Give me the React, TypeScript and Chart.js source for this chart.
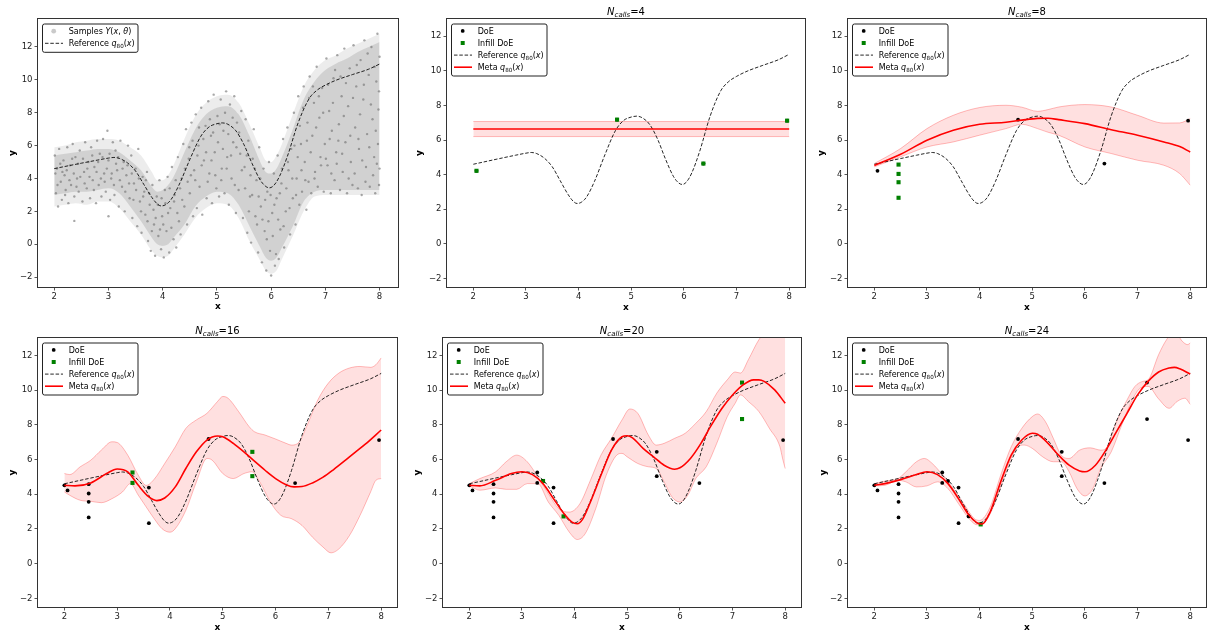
import React, { useEffect, useRef } from "react";
import { Chart, registerables } from "chart.js";

Chart.register(...registerables);

const FONT = '"DejaVu Sans", "Liberation Sans", sans-serif';

// ---------------- data ----------------
const xTicks = [2, 3, 4, 5, 6, 7, 8];
const yTicks = [-2, 0, 2, 4, 6, 8, 10, 12];

// Reference q80(x)
const refX = [2.0, 2.5, 2.8, 3.0, 3.1, 3.2, 3.35, 3.5, 3.65, 3.8, 3.9, 3.97, 4.05, 4.15, 4.3, 4.5, 4.7, 4.85, 5.0, 5.1, 5.2, 5.35, 5.5, 5.65, 5.8, 5.9, 5.97, 6.05, 6.15, 6.3, 6.5, 6.7, 6.85, 7.0, 7.2, 7.5, 7.8, 8.0];
const refY = [4.6, 4.93, 5.12, 5.24, 5.28, 5.22, 4.95, 4.45, 3.65, 2.85, 2.45, 2.33, 2.4, 2.7, 3.6, 5.15, 6.55, 7.12, 7.33, 7.38, 7.3, 6.9, 6.05, 4.9, 3.9, 3.52, 3.43, 3.58, 4.1, 5.35, 7.4, 8.85, 9.38, 9.68, 9.98, 10.32, 10.65, 10.96];

// Samples Y(x, theta): extent of the sample cloud and individual samples
const cloudX = [2.0, 2.2, 2.4, 2.6, 2.8, 3.0, 3.2, 3.4, 3.6, 3.8, 3.9, 4.0, 4.1, 4.2, 4.4, 4.6, 4.8, 5.0, 5.2, 5.4, 5.6, 5.8, 5.9, 6.0, 6.1, 6.2, 6.4, 6.6, 6.8, 7.0, 7.2, 7.4, 7.6, 7.8, 8.0];
const cloudOuterHigh = [5.9, 6.0, 6.2, 6.3, 6.4, 6.4, 6.3, 5.9, 5.4, 4.4, 3.9, 3.9, 4.2, 4.8, 6.4, 7.8, 8.6, 9.0, 9.1, 8.6, 7.3, 5.8, 5.1, 5.0, 5.4, 6.1, 7.9, 9.6, 10.6, 11.2, 11.5, 11.9, 12.2, 12.5, 12.8];
const cloudOuterLow = [2.3, 2.4, 2.5, 2.4, 2.6, 2.6, 2.2, 1.4, 0.6, -0.4, -0.7, -0.8, -0.7, -0.3, 0.6, 1.6, 2.2, 2.5, 2.4, 1.6, 0.2, -1.0, -1.6, -1.8, -1.6, -0.9, 0.5, 2.0, 2.9, 3.0, 3.0, 3.0, 3.0, 3.0, 3.0];
const cloudInnerHigh = [5.4, 5.5, 5.6, 5.7, 5.8, 5.8, 5.6, 5.1, 4.5, 3.5, 3.2, 3.3, 3.6, 4.1, 5.6, 7.0, 7.9, 8.3, 8.4, 7.9, 6.6, 5.0, 4.4, 4.3, 4.6, 5.3, 7.0, 8.8, 9.9, 10.6, 11.0, 11.3, 11.7, 12.0, 12.3];
const cloudInnerLow = [3.0, 3.1, 3.2, 3.2, 3.3, 3.4, 3.1, 2.3, 1.4, 0.4, 0.0, -0.1, 0.0, 0.4, 1.2, 2.3, 2.9, 3.2, 3.1, 2.4, 1.1, -0.2, -0.8, -1.0, -0.8, -0.2, 1.1, 2.6, 3.2, 3.3, 3.3, 3.3, 3.3, 3.3, 3.3];
const samplePoints: [number, number][] = [
  [2.01, 5.4], [2.03, 3.1], [2.05, 4.6], [2.07, 2.3], [2.09, 5.8], [2.12, 3.8], [2.14, 2.7], [2.17, 5.1], [2.19, 4.2], [2.21, 3.3],
  [2.24, 5.9], [2.26, 2.5], [2.29, 4.8], [2.31, 3.6], [2.34, 6.1], [2.37, 2.9], [2.37, 1.42], [2.39, 5.3], [2.42, 4.0], [2.45, 3.2], [2.47, 5.7],
  [2.52, 2.6], [2.55, 4.4], [2.57, 6.2], [2.6, 3.4], [2.63, 5.0], [2.66, 2.8], [2.68, 5.9], [2.71, 3.9], [2.74, 4.7], [2.77, 2.5], [2.79, 6.3],
  [2.82, 3.6], [2.84, 5.5], [2.87, 2.9], [2.9, 6.4], [2.92, 4.3], [2.95, 3.2], [2.98, 6.9], [3.0, 5.1], [3.03, 2.7], [3.05, 4.0], [3.08, 6.2],
  [3.0, 1.7], [3.11, 3.0], [3.13, 5.7], [3.16, 4.5], [3.19, 2.3], [3.22, 6.3], [3.25, 3.5], [3.28, 5.0], [3.3, 2.0], [3.33, 4.2], [3.36, 6.0], [3.39, 2.8],
  [3.42, 5.4], [3.44, 1.6], [3.47, 3.7], [3.5, 4.6], [3.53, 1.1], [3.55, 5.8], [3.58, 2.6], [3.61, 0.7], [3.63, 4.1], [3.66, 3.2], [3.68, 1.8],
  [3.71, 4.4], [3.73, 0.2], [3.76, 2.4], [3.78, -0.4], [3.81, 3.6], [3.84, 1.2], [3.86, -0.7], [3.89, 2.9], [3.92, 0.5], [3.94, 3.9], [3.97, -0.3], [3.99, 1.7],
  [4.02, -0.8], [4.04, 3.3], [4.07, 0.8], [4.09, 4.1], [4.12, -0.5], [4.14, 2.2], [4.17, 4.7], [4.2, 0.3], [4.22, 3.0], [4.25, -0.2], [4.28, 5.3], [4.3, 1.4],
  [4.33, 0.6], [4.35, 4.0], [4.38, 6.1], [4.4, 2.3], [4.43, 7.0], [4.45, 1.2], [4.48, 5.2], [4.5, 3.1], [4.53, 7.4], [4.56, 1.7], [4.58, 4.5],
  [4.61, 7.9], [4.63, 2.2], [4.66, 6.0], [4.68, 3.5], [4.71, 8.3], [4.73, 1.8], [4.76, 5.1], [4.79, 7.2], [4.81, 2.8], [4.84, 8.7], [4.86, 4.3], [4.89, 6.6],
  [4.91, 2.5], [4.94, 9.1], [4.96, 5.6], [4.99, 3.4], [5.01, 7.8], [5.04, 2.9], [5.07, 8.8], [5.09, 4.6], [5.12, 6.9], [5.14, 3.1], [5.17, 9.3], [5.19, 5.3],
  [5.22, 2.4], [5.24, 8.5], [5.27, 4.0], [5.3, 6.2], [5.32, 9.0], [5.35, 1.9], [5.37, 7.4], [5.4, 3.3], [5.43, 5.5], [5.45, 8.1], [5.48, 1.6],
  [5.51, 4.7], [5.53, 7.6], [5.56, 0.7], [5.58, 6.3], [5.61, 2.9], [5.63, 0.1], [5.66, 5.2], [5.68, 7.0], [5.71, 1.7], [5.73, 3.9], [5.76, -0.5], [5.78, 5.9],
  [5.81, 2.3], [5.83, -1.1], [5.86, 4.6], [5.88, 0.8], [5.91, -1.6], [5.93, 3.2], [5.96, 5.0], [5.98, -0.4], [6.0, -1.9], [6.02, 1.9], [6.05, 4.3], [6.07, -1.3], [6.1, 2.8],
  [6.12, 5.4], [6.14, -0.9], [6.17, 0.9], [6.19, 3.7], [6.22, 6.4], [6.24, -0.2], [6.27, 2.0], [6.3, 7.1], [6.32, 4.5], [6.35, 0.6], [6.37, 5.8], [6.4, 2.8],
  [6.42, 8.0], [6.45, 1.2], [6.47, 4.0], [6.5, 9.0], [6.52, 2.4], [6.55, 6.1], [6.57, 3.2], [6.6, 9.6], [6.62, 5.0], [6.65, 2.1], [6.67, 7.4], [6.69, 3.8],
  [6.71, 10.2], [6.74, 3.1], [6.76, 6.6], [6.79, 8.6], [6.81, 4.4], [6.84, 10.8], [6.86, 3.5], [6.89, 7.7], [6.91, 5.3], [6.94, 9.5], [6.97, 3.2], [6.99, 6.1],
  [7.02, 11.3], [7.04, 4.8], [7.07, 8.1], [7.1, 3.1], [7.12, 6.9], [7.15, 10.1], [7.17, 3.9], [7.2, 5.6], [7.22, 11.5], [7.25, 7.3], [7.27, 3.3], [7.3, 9.0],
  [7.32, 4.4], [7.35, 11.9], [7.37, 6.2], [7.4, 3.1], [7.42, 8.4], [7.45, 10.7], [7.47, 5.0], [7.5, 3.6], [7.52, 12.1], [7.55, 7.1], [7.57, 9.6], [7.6, 3.4],
  [7.62, 5.8], [7.65, 11.2], [7.67, 3.0], [7.7, 8.8], [7.72, 12.4], [7.75, 4.7], [7.77, 6.7], [7.8, 10.3], [7.82, 3.5], [7.85, 12.0], [7.87, 7.6], [7.9, 5.3],
  [7.92, 3.1], [7.94, 9.9], [7.96, 12.8], [7.97, 6.1], [7.99, 3.6], [8.0, 11.4], [8.0, 4.6], [7.98, 8.2],
  [2.02, 4.3], [2.06, 3.6], [2.11, 4.9], [2.15, 4.4], [2.2, 3.0], [2.23, 4.5], [2.28, 3.9], [2.33, 5.2], [2.36, 4.3], [2.41, 3.5], [2.44, 4.9], [2.48, 4.1],
  [2.53, 5.2], [2.56, 3.7], [2.61, 4.6], [2.65, 4.1], [2.7, 5.4], [2.73, 3.3], [2.78, 4.4], [2.81, 5.0], [2.86, 4.0], [2.89, 5.3], [2.93, 3.8], [2.97, 4.6],
  [3.02, 5.5], [3.06, 4.3], [3.1, 3.6], [3.14, 4.9], [3.18, 5.3], [3.21, 3.9], [3.26, 4.6], [3.31, 3.2], [3.35, 4.8], [3.38, 3.7], [3.43, 4.3], [3.46, 2.7],
  [3.51, 3.3], [3.56, 4.0], [3.6, 2.0], [3.64, 2.9], [3.69, 3.9], [3.72, 1.4], [3.75, 3.1], [3.8, 0.8], [3.83, 2.1], [3.87, 1.6], [3.91, 2.4], [3.95, 0.9], [3.98, 2.8],
  [4.01, 1.2], [4.05, 2.5], [4.1, 1.9], [4.13, 3.4], [4.16, 1.0], [4.21, 2.6], [4.24, 3.9], [4.27, 1.9], [4.32, 3.4], [4.36, 2.7], [4.41, 4.6], [4.46, 3.8], [4.49, 5.9],
  [4.52, 4.2], [4.55, 6.3], [4.6, 3.9], [4.64, 5.4], [4.67, 7.1], [4.72, 4.8], [4.75, 6.4], [4.8, 5.6], [4.83, 3.8], [4.87, 7.6], [4.9, 5.1], [4.93, 6.8], [4.97, 4.2],
  [5.02, 6.2], [5.05, 7.3], [5.08, 3.9], [5.11, 5.8], [5.15, 8.0], [5.18, 4.6], [5.21, 6.7], [5.26, 5.4], [5.29, 7.7], [5.33, 3.6], [5.36, 5.9], [5.41, 6.8], [5.46, 4.5],
  [5.52, 3.4], [5.55, 5.4], [5.59, 2.0], [5.62, 4.2], [5.65, 3.0], [5.7, 4.6], [5.74, 1.2], [5.77, 2.9], [5.8, 4.0], [5.84, 1.5], [5.89, 2.7], [5.92, 0.3], [5.95, 1.4], [5.99, 3.0],
  [6.03, 0.5], [6.06, 2.4], [6.09, -0.6], [6.13, 1.5], [6.16, 3.1], [6.2, 4.6], [6.23, 1.1], [6.28, 3.4], [6.31, 5.0], [6.34, 2.2], [6.39, 4.0], [6.43, 6.0], [6.46, 3.0], [6.49, 5.3],
  [6.53, 7.2], [6.56, 4.5], [6.59, 8.3], [6.63, 3.9], [6.66, 6.3], [6.7, 8.9], [6.73, 5.6], [6.77, 9.6], [6.8, 4.0], [6.83, 7.1], [6.88, 9.0], [6.92, 4.8], [6.96, 8.0],
  [7.01, 5.2], [7.05, 9.7], [7.08, 6.4], [7.11, 4.3], [7.14, 8.6], [7.18, 10.6], [7.21, 4.9], [7.24, 6.3], [7.28, 10.2], [7.31, 5.5], [7.34, 7.8], [7.38, 9.8], [7.43, 4.0], [7.46, 6.6],
  [7.51, 8.9], [7.54, 4.3], [7.58, 10.9], [7.61, 6.4], [7.64, 7.9], [7.68, 5.1], [7.71, 9.7], [7.74, 3.8], [7.78, 11.6], [7.81, 5.9], [7.84, 8.5], [7.88, 4.2], [7.91, 10.8], [7.93, 6.9], [7.95, 4.9], [7.99, 9.3],
];

// Design of experiments
const doeBaseX = [2.06, 4.73, 6.37, 7.96];
const doeBaseY = [4.22, 7.18, 4.64, 7.12];
const infill8X = [2.46, 2.46, 2.46, 2.46];
const infill8Y = [4.58, 4.04, 3.56, 2.66];
const infill12X = [2.0, 3.6, 3.6];
const infill12Y = [4.51, 4.38, 2.33];
const infill16X = [3.29, 3.29, 5.56, 5.56];
const infill16Y = [5.25, 4.65, 6.44, 5.04];
const infill20X = [3.79, 7.18, 7.18, 3.4];
const infill20Y = [2.72, 10.43, 8.33, 4.76];
const infill24X = [4.02];
const infill24Y = [2.26];

// N_calls = 4
const meta4X = [2, 8];
const meta4Y = [6.64, 6.64];
const up4Y = [7.07, 7.07];
const lo4Y = [6.2, 6.2];

// N_calls = 8
const meta8X = [2, 2.5, 3, 3.5, 4, 4.5, 4.8, 5.1, 5.3, 5.5, 6, 6.5, 7, 7.5, 7.8, 8];
const meta8Y = [4.53, 5.18, 5.99, 6.57, 6.91, 7.03, 7.15, 7.25, 7.26, 7.18, 6.95, 6.6, 6.28, 5.89, 5.62, 5.31];
const up8Y = [4.64, 5.51, 6.66, 7.43, 7.88, 8.01, 7.9, 7.66, 7.76, 7.91, 8.05, 7.91, 7.43, 6.98, 6.99, 7.24];
const lo8Y = [4.45, 5.03, 5.6, 5.89, 6.28, 6.66, 6.91, 6.66, 6.45, 6.28, 5.6, 5.22, 4.83, 4.54, 4.06, 3.39];

// N_calls = 16
const meta16X = [2, 2.2, 2.5, 2.8, 3.0, 3.2, 3.4, 3.6, 3.75, 3.9, 4.1, 4.3, 4.5, 4.7, 4.9, 5.0, 5.2, 5.4, 5.6, 5.8, 6.0, 6.2, 6.35, 6.5, 6.7, 6.9, 7.1, 7.3, 7.5, 7.7, 8.0];
const meta16Y = [4.51, 4.48, 4.65, 5.19, 5.45, 5.29, 4.51, 3.84, 3.63, 3.78, 4.42, 5.48, 6.44, 7.12, 7.35, 7.31, 6.93, 6.44, 5.9, 5.38, 4.9, 4.55, 4.42, 4.44, 4.65, 4.98, 5.42, 5.9, 6.4, 6.88, 7.7];
const up16X = [2, 2.1, 2.3, 2.5, 2.7, 2.9, 3.0, 3.2, 3.4, 3.55, 3.7, 3.9, 4.1, 4.3, 4.5, 4.7, 4.9, 5.0, 5.1, 5.3, 5.5, 5.6, 5.8, 6.0, 6.2, 6.3, 6.45, 6.6, 6.8, 7.0, 7.2, 7.4, 7.6, 7.8, 7.9, 8.0];
const up16Y = [5.19, 5.13, 5.58, 5.96, 6.54, 7.02, 6.98, 6.25, 5.09, 4.51, 4.86, 5.77, 6.73, 7.79, 8.28, 8.66, 9.34, 9.63, 9.53, 8.76, 7.89, 7.6, 7.41, 7.18, 6.93, 6.83, 7.02, 7.99, 9.43, 10.4, 10.98, 11.27, 11.36, 11.31, 11.46, 11.85];
const lo16X = [2, 2.1, 2.3, 2.5, 2.7, 2.9, 3.1, 3.25, 3.4, 3.55, 3.7, 3.85, 4.0, 4.1, 4.3, 4.5, 4.7, 4.8, 5.0, 5.2, 5.4, 5.55, 5.7, 5.9, 6.1, 6.3, 6.5, 6.7, 6.9, 7.05, 7.2, 7.4, 7.6, 7.8, 7.9, 8.0];
const lo16Y = [4.13, 3.94, 3.65, 3.59, 3.51, 3.74, 4.13, 4.61, 3.94, 3.26, 2.59, 2.01, 1.81, 2.01, 3.07, 4.71, 6.06, 5.96, 5.19, 4.9, 5.19, 5.29, 4.71, 3.55, 2.78, 2.59, 2.2, 1.52, 0.95, 0.62, 0.85, 1.62, 2.78, 4.13, 4.8, 4.9];

// N_calls = 20
const meta20X = [2, 2.2, 2.5, 2.8, 3.0, 3.2, 3.4, 3.6, 3.8, 3.95, 4.05, 4.15, 4.3, 4.5, 4.7, 4.9, 5.0, 5.1, 5.3, 5.5, 5.7, 5.9, 6.0, 6.2, 6.4, 6.6, 6.8, 7.0, 7.2, 7.4, 7.5, 7.6, 7.8, 8.0];
const meta20Y = [4.51, 4.48, 4.8, 5.19, 5.29, 5.13, 4.61, 3.74, 2.87, 2.39, 2.3, 2.55, 3.55, 5.09, 6.54, 7.31, 7.37, 7.25, 6.64, 6.15, 5.67, 5.44, 5.52, 6.06, 6.93, 7.99, 8.95, 9.72, 10.3, 10.59, 10.59, 10.5, 10.01, 9.24];
const up20X = [2, 2.2, 2.5, 2.7, 2.9, 3.1, 3.3, 3.5, 3.7, 3.9, 4.1, 4.3, 4.5, 4.7, 4.9, 5.05, 5.2, 5.4, 5.55, 5.7, 5.9, 6.1, 6.3, 6.5, 6.7, 6.9, 7.05, 7.15, 7.3, 7.5, 7.7, 7.9, 8.0];
const up20Y = [4.61, 4.9, 5.29, 5.87, 6.25, 5.87, 5.0, 4.03, 3.16, 2.97, 3.45, 4.8, 6.25, 7.22, 8.28, 8.91, 8.66, 7.41, 6.83, 6.93, 7.22, 7.51, 8.08, 8.76, 9.82, 10.59, 11.04, 10.98, 11.75, 12.9, 13.6, 13.9, 13.8];
const lo20X = [2, 2.2, 2.5, 2.7, 2.9, 3.1, 3.3, 3.5, 3.7, 3.9, 4.05, 4.2, 4.4, 4.6, 4.8, 4.9, 5.0, 5.2, 5.4, 5.55, 5.7, 5.85, 6.0, 6.15, 6.3, 6.5, 6.7, 6.9, 7.05, 7.15, 7.3, 7.5, 7.7, 7.9, 7.95, 8.0];
const lo20Y = [4.48, 4.23, 4.36, 4.28, 4.28, 4.61, 4.61, 3.55, 2.78, 1.81, 1.39, 1.72, 3.16, 5.09, 6.25, 6.35, 6.15, 5.77, 5.58, 5.48, 4.71, 3.84, 3.55, 3.94, 4.9, 5.58, 6.93, 8.47, 9.24, 9.72, 9.34, 8.76, 7.79, 6.73, 6.06, 5.48];

// N_calls = 24
const meta24X = [2, 2.2, 2.5, 2.8, 3.0, 3.2, 3.4, 3.6, 3.8, 3.95, 4.05, 4.2, 4.4, 4.6, 4.8, 5.0, 5.1, 5.3, 5.5, 5.7, 5.9, 6.0, 6.2, 6.4, 6.6, 6.8, 7.0, 7.2, 7.4, 7.6, 7.7, 7.8, 8.0];
const meta24Y = [4.51, 4.61, 4.84, 5.13, 5.29, 5.13, 4.61, 3.74, 2.78, 2.35, 2.28, 2.97, 4.71, 6.25, 7.12, 7.51, 7.45, 6.93, 6.25, 5.67, 5.34, 5.29, 5.67, 6.54, 7.6, 8.66, 9.72, 10.5, 11.04, 11.27, 11.31, 11.23, 10.92];
const up24X = [2, 2.2, 2.45, 2.6, 2.8, 2.95, 3.1, 3.3, 3.5, 3.7, 3.9, 4.0, 4.2, 4.4, 4.6, 4.8, 5.0, 5.1, 5.25, 5.4, 5.55, 5.7, 5.9, 6.1, 6.3, 6.4, 6.6, 6.8, 6.95, 7.1, 7.2, 7.4, 7.55, 7.7, 7.85, 7.95, 8.0];
const up24Y = [4.61, 4.75, 4.9, 5.29, 5.87, 6.06, 5.77, 5.09, 4.32, 3.45, 2.59, 2.49, 3.26, 5.09, 6.73, 7.79, 8.47, 8.62, 8.18, 7.22, 6.25, 6.06, 6.54, 6.67, 6.54, 6.64, 8.18, 9.43, 10.21, 10.5, 10.59, 12.04, 12.9, 13.4, 12.81, 12.62, 12.71];
const lo24X = [2, 2.2, 2.45, 2.6, 2.8, 3.0, 3.2, 3.4, 3.6, 3.8, 3.95, 4.1, 4.3, 4.5, 4.7, 4.85, 5.0, 5.2, 5.4, 5.55, 5.7, 5.85, 6.0, 6.15, 6.3, 6.5, 6.7, 6.9, 7.05, 7.2, 7.4, 7.6, 7.75, 7.9, 8.0];
const lo24Y = [4.48, 4.51, 4.8, 4.71, 4.42, 4.48, 4.71, 4.32, 3.45, 2.59, 2.24, 2.39, 3.55, 5.29, 6.64, 6.83, 6.64, 6.15, 5.87, 5.87, 5.29, 4.32, 3.9, 4.32, 5.48, 6.44, 7.99, 9.43, 10.11, 10.21, 9.49, 8.95, 9.34, 9.53, 9.18];

// ---------------- helpers ----------------
type Seg = { t: string; k?: "i" | "s" | "si" };

const refSegs: Seg[] = [{ t: "Reference " }, { t: "q", k: "i" }, { t: "80", k: "s" }, { t: "(" }, { t: "x", k: "i" }, { t: ")" }];
const metaSegs: Seg[] = [{ t: "Meta " }, { t: "q", k: "i" }, { t: "80", k: "s" }, { t: "(" }, { t: "x", k: "i" }, { t: ")" }];
const sampleSegs: Seg[] = [{ t: "Samples " }, { t: "Y", k: "i" }, { t: "(" }, { t: "x", k: "i" }, { t: ", " }, { t: "θ", k: "i" }, { t: ")" }];

const xy = (xs: number[], ys: number[]) => xs.map((x, i) => ({ x, y: ys[i] }));
const cat = (...a: number[][]) => ([] as number[]).concat(...a);

const BAND_FILL = "rgba(255,0,0,0.12)";
const BAND_EDGE = "rgba(255,0,0,0.38)";
const REF_COLOR = "rgba(0,0,0,0.85)";
const REF_DASH = [3.5, 1.8];

function lineSet(xs: number[], ys: number[], o: any) {
  return { data: xy(xs, ys), showLine: true, pointRadius: 0, cubicInterpolationMode: "monotone", fill: false, borderWidth: 1, ...o };
}
function pointSet(xs: number[], ys: number[], o: any) {
  return { data: xy(xs, ys), showLine: false, pointBorderWidth: 0, pointHoverRadius: 0, ...o };
}

// scatter collections sit under the lines (as in the original plot)
function modelSets(mx: number[], my: number[], ux: number[], uy: number[], lx: number[], ly: number[], dx: number[], dy: number[], ix: number[], iy: number[]) {
  return [
    lineSet(lx, ly, { borderColor: BAND_EDGE, borderWidth: 0.7, order: 6 }),
    lineSet(ux, uy, { borderColor: BAND_EDGE, borderWidth: 0.7, fill: "-1", backgroundColor: BAND_FILL, order: 5 }),
    pointSet(dx, dy, { pointRadius: 1.9, pointBackgroundColor: "#000", order: 4 }),
    pointSet(ix, iy, { pointStyle: "rect", pointRadius: 2.9, pointBackgroundColor: "#008000", order: 3 }),
    lineSet(refX, refY, { borderColor: REF_COLOR, borderWidth: 1, borderDash: REF_DASH, order: 2 }),
    lineSet(mx, my, { borderColor: "#ff0000", borderWidth: 1.6, order: 1 }),
  ];
}

const sampleSets = [
  lineSet(cloudX, cloudOuterLow, { borderColor: "transparent", order: 9 }),
  lineSet(cloudX, cloudOuterHigh, { borderColor: "transparent", fill: "-1", backgroundColor: "rgba(150,150,150,0.18)", order: 8 }),
  lineSet(cloudX, cloudInnerLow, { borderColor: "transparent", order: 7 }),
  lineSet(cloudX, cloudInnerHigh, { borderColor: "transparent", fill: "-1", backgroundColor: "rgba(150,150,150,0.3)", order: 6 }),
  pointSet(samplePoints.map((p) => p[0]), samplePoints.map((p) => p[1]), { pointRadius: 1.2, pointBackgroundColor: "rgba(110,110,110,0.6)", order: 5 }),
  lineSet(refX, refY, { borderColor: REF_COLOR, borderWidth: 1, borderDash: REF_DASH, order: 4 }),
];

const doe16X = cat(doeBaseX, infill8X, infill12X);
const doe16Y = cat(doeBaseY, infill8Y, infill12Y);
const doe20X = cat(doe16X, infill16X);
const doe20Y = cat(doe16Y, infill16Y);
const doe24X = cat(doe20X, infill20X);
const doe24Y = cat(doe20Y, infill20Y);

const modelLegend = [
  { kind: "dot", segs: [{ t: "DoE" }] as Seg[] },
  { kind: "square", segs: [{ t: "Infill DoE" }] as Seg[] },
  { kind: "dash", segs: refSegs },
  { kind: "line", segs: metaSegs },
];
const sampleLegend = [
  { kind: "sample", segs: sampleSegs },
  { kind: "dash", segs: refSegs },
];

type Panel = {
  key: string; left: number; top: number; w: number; h: number;
  area: { l: number; r: number; t: number; b: number };
  xr: number[]; yr: number[]; title: string | null; titleY: number;
  ylabX: number; xlabY: number; legend: any[]; legendH: number; datasets: any[];
};

const PANELS: Panel[] = [
  { key: "p1", left: 0, top: 0, w: 408, h: 312, area: { l: 38, r: 398, t: 19, b: 287 }, xr: [1.7, 8.34], yr: [-2.6, 13.7], title: null, titleY: 15, ylabX: 12.7, xlabY: 307, legend: sampleLegend, legendH: 28.3, datasets: sampleSets },
  { key: "p2", left: 408, top: 0, w: 400, h: 312, area: { l: 447, r: 805, t: 19, b: 287 }, xr: [1.5, 8.3], yr: [-2.5, 13], title: "4", titleY: 15, ylabX: 420, xlabY: 307.5, legend: modelLegend, legendH: 52, datasets: modelSets(meta4X, meta4Y, meta4X, up4Y, meta4X, lo4Y, doeBaseX, doeBaseY, doeBaseX, doeBaseY) },
  { key: "p3", left: 808, top: 0, w: 400, h: 312, area: { l: 848, r: 1206, t: 19, b: 287 }, xr: [1.5, 8.3], yr: [-2.5, 13], title: "8", titleY: 15, ylabX: 821.7, xlabY: 307.5, legend: modelLegend, legendH: 52, datasets: modelSets(meta8X, meta8Y, meta8X, up8Y, meta8X, lo8Y, doeBaseX, doeBaseY, infill8X, infill8Y) },
  { key: "p4", left: 0, top: 312, w: 408, h: 321, area: { l: 38, r: 397, t: 338, b: 607 }, xr: [1.5, 8.3], yr: [-2.5, 13], title: "16", titleY: 334.3, ylabX: 12.7, xlabY: 628, legend: modelLegend, legendH: 52, datasets: modelSets(meta16X, meta16Y, up16X, up16Y, lo16X, lo16Y, doe16X, doe16Y, infill16X, infill16Y) },
  { key: "p5", left: 408, top: 312, w: 400, h: 321, area: { l: 443, r: 801, t: 338, b: 607 }, xr: [1.5, 8.3], yr: [-2.5, 13], title: "20", titleY: 334.3, ylabX: 417.7, xlabY: 628, legend: modelLegend, legendH: 52, datasets: modelSets(meta20X, meta20Y, up20X, up20Y, lo20X, lo20Y, doe20X, doe20Y, infill20X, infill20Y) },
  { key: "p6", left: 808, top: 312, w: 400, h: 321, area: { l: 848, r: 1206, t: 338, b: 607 }, xr: [1.5, 8.3], yr: [-2.5, 13], title: "24", titleY: 334.3, ylabX: 823.3, xlabY: 628, legend: modelLegend, legendH: 52, datasets: modelSets(meta24X, meta24Y, up24X, up24Y, lo24X, lo24Y, doe24X, doe24Y, infill24X, infill24Y) },
];

// ---------------- drawing helpers ----------------
function segFont(k: Seg["k"], size: number) {
  const sub = k === "s" || k === "si";
  const it = k === "i" || k === "si";
  return `${it ? "italic " : ""}${(sub ? size * 0.7 : size).toFixed(2)}px ${FONT}`;
}
function drawRich(ctx: CanvasRenderingContext2D, x: number, y: number, segs: Seg[], size: number, center: boolean) {
  let w = 0;
  for (const s of segs) {
    ctx.font = segFont(s.k, size);
    w += ctx.measureText(s.t).width;
  }
  let cx = center ? x - w / 2 : x;
  ctx.textAlign = "left";
  ctx.textBaseline = "alphabetic";
  for (const s of segs) {
    ctx.font = segFont(s.k, size);
    const sub = s.k === "s" || s.k === "si";
    ctx.fillText(s.t, cx, y + (sub ? size * 0.2 : 0));
    cx += ctx.measureText(s.t).width;
  }
}
function rrect(ctx: CanvasRenderingContext2D, x: number, y: number, w: number, h: number, r: number) {
  ctx.beginPath();
  ctx.moveTo(x + r, y);
  ctx.lineTo(x + w - r, y);
  ctx.arcTo(x + w, y, x + w, y + r, r);
  ctx.lineTo(x + w, y + h - r);
  ctx.arcTo(x + w, y + h, x + w - r, y + h, r);
  ctx.lineTo(x + r, y + h);
  ctx.arcTo(x, y + h, x, y + h - r, r);
  ctx.lineTo(x, y + r);
  ctx.arcTo(x, y, x + r, y, r);
  ctx.closePath();
}

function makeDecor(p: Panel) {
  return {
    id: "decor_" + p.key,
    afterDraw(chart: any) {
      const ctx: CanvasRenderingContext2D = chart.ctx;
      const a = chart.chartArea;
      const X = (v: number) => v - p.left;
      const Y = (v: number) => v - p.top;
      ctx.save();
      ctx.setLineDash([]);
      // frame
      ctx.strokeStyle = "#333";
      ctx.lineWidth = 1;
      ctx.strokeRect(a.left - 0.5, a.top - 0.5, a.right - a.left + 1, a.bottom - a.top + 1);
      const cxm = (a.left + a.right) / 2;
      ctx.fillStyle = "#000";
      if (p.title) {
        drawRich(ctx, cxm, Y(p.titleY), [{ t: "N", k: "i" }, { t: "calls", k: "si" }, { t: "=" + p.title }], 10, true);
      }
      // axis labels
      ctx.font = `bold 9px ${FONT}`;
      ctx.textAlign = "center";
      ctx.textBaseline = "middle";
      ctx.fillText("x", cxm, Y(p.xlabY));
      ctx.save();
      ctx.translate(X(p.ylabX), (a.top + a.bottom) / 2);
      ctx.rotate(-Math.PI / 2);
      ctx.fillText("y", 0, 0);
      ctx.restore();
      // legend
      const lx = a.left + 4;
      const ly = a.top + 4.5;
      rrect(ctx, lx + 0.5, ly + 0.5, 95.5, p.legendH, 2);
      ctx.fillStyle = "rgba(255,255,255,0.85)";
      ctx.fill();
      ctx.strokeStyle = "#222";
      ctx.lineWidth = 1;
      ctx.stroke();
      p.legend.forEach((row: any, i: number) => {
        const cy = ly + 7.4 + i * 12.1 + (p.legend.length === 2 ? 0.3 : 0);
        const mx = lx + 11.7;
        ctx.setLineDash([]);
        if (row.kind === "dot") {
          ctx.fillStyle = "#000";
          ctx.beginPath();
          ctx.arc(mx, cy, 1.9, 0, Math.PI * 2);
          ctx.fill();
        } else if (row.kind === "square") {
          ctx.fillStyle = "#008000";
          ctx.fillRect(mx - 2, cy - 2, 4, 4);
        } else if (row.kind === "sample") {
          ctx.fillStyle = "rgba(150,150,150,0.5)";
          ctx.beginPath();
          ctx.arc(mx, cy, 2.4, 0, Math.PI * 2);
          ctx.fill();
        } else if (row.kind === "dash") {
          ctx.strokeStyle = REF_COLOR;
          ctx.lineWidth = 1;
          ctx.setLineDash(REF_DASH);
          ctx.beginPath();
          ctx.moveTo(lx + 3, cy);
          ctx.lineTo(lx + 21, cy);
          ctx.stroke();
        } else if (row.kind === "line") {
          ctx.strokeStyle = "#ff0000";
          ctx.lineWidth = 1.6;
          ctx.beginPath();
          ctx.moveTo(lx + 3, cy);
          ctx.lineTo(lx + 21, cy);
          ctx.stroke();
        }
        ctx.setLineDash([]);
        ctx.fillStyle = "#000";
        drawRich(ctx, lx + 26.7, cy + 2.9, row.segs, 8, false);
      });
      ctx.restore();
    },
  };
}

const fmtTick = (v: number) => (v < 0 ? "\u2212" + Math.abs(v) : String(v));

function PanelChart({ p }: { p: Panel }) {
  const ref = useRef<HTMLCanvasElement>(null);
  useEffect(() => {
    const canvas = ref.current;
    if (!canvas) return;
    const tickFont = { size: 8.5, family: FONT };
    const grid = { drawOnChartArea: false, drawTicks: true, tickLength: 3.5, color: "#444", lineWidth: 0.9 };
    const chart = new Chart(canvas, {
      type: "line",
      data: { datasets: p.datasets as any },
      plugins: [makeDecor(p) as any],
      options: {
        responsive: false,
        maintainAspectRatio: false,
        animation: false,
        events: [],
        layout: {
          autoPadding: false,
          padding: { left: 0, top: p.area.t - p.top, right: p.left + p.w - p.area.r, bottom: 0 },
        },
        plugins: { legend: { display: false }, title: { display: false }, tooltip: { enabled: false } },
        scales: {
          x: {
            type: "linear",
            bounds: "data",
            min: p.xr[0],
            max: p.xr[1],
            afterBuildTicks: (s: any) => { s.ticks = xTicks.map((v) => ({ value: v })); },
            afterFit: (s: any) => { s.height = p.top + p.h - p.area.b; },
            ticks: { font: tickFont, color: "#222", padding: 1.5, maxRotation: 0, autoSkip: false, callback: (v: any) => fmtTick(Number(v)) },
            grid,
            border: { display: false },
          },
          y: {
            type: "linear",
            bounds: "data",
            min: p.yr[0],
            max: p.yr[1],
            afterBuildTicks: (s: any) => { s.ticks = yTicks.map((v) => ({ value: v })); },
            afterFit: (s: any) => { s.width = p.area.l - p.left; },
            ticks: { font: tickFont, color: "#222", padding: 2, autoSkip: false, callback: (v: any) => fmtTick(Number(v)) },
            grid,
            border: { display: false },
          },
        },
      } as any,
    });
    return () => chart.destroy();
  }, [p]);
  return (
    <canvas
      ref={ref}
      width={p.w}
      height={p.h}
      style={{ position: "absolute", left: p.left, top: p.top, width: p.w, height: p.h }}
    />
  );
}

export default function App() {
  return (
    <div style={{ position: "absolute", left: 0, top: 0, width: 1208, height: 633, background: "#fff", overflow: "hidden" }}>
      {PANELS.map((p) => (
        <PanelChart key={p.key} p={p} />
      ))}
    </div>
  );
}
